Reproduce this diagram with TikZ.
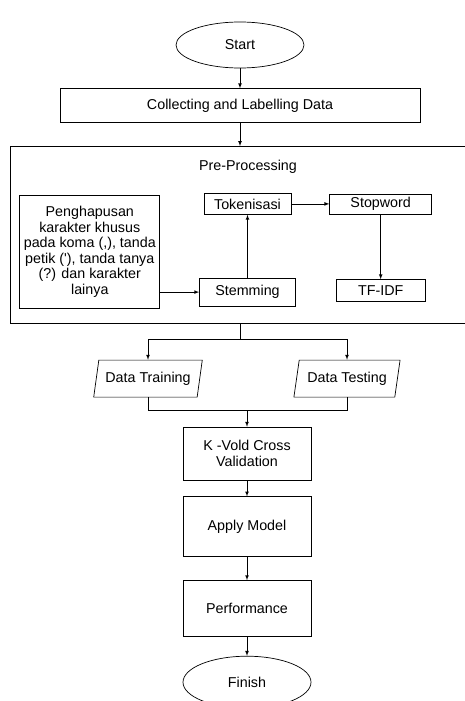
\documentclass[tikz,border=0pt]{standalone}
\usepackage{fontspec}
\setmainfont{Liberation Sans}
\usetikzlibrary{positioning,arrows,shapes.geometric}

\begin{document}
\begin{tikzpicture}[x=1pt, y=1pt, >=latex, line width=.7pt,
  font=\fontsize{14.3pt}{15.5pt}\selectfont,
  box/.style={draw, rectangle, inner sep=2pt, align=center},
  term/.style={draw, ellipse, minimum width=128pt, minimum height=46pt},
  io/.style={draw, trapezium, trapezium left angle=75, trapezium right angle=105,
    trapezium stretches=true, minimum height=37pt, inner sep=2pt}]
\useasboundingbox (0,0) rectangle (465,-701);
\node[term] (start) at (240,-45) {Start};
\node[box, below=20pt of start, minimum width=360pt, minimum height=34pt] (collect) {Collecting and Labelling Data};
\node[box, below=23pt of collect, minimum width=460pt, minimum height=177pt] (frame) {};
\node (pretitle) at ([xshift=8pt, yshift=-21pt]frame.north) {Pre-Processing};
\node[box, below=47pt of frame.north, xshift=7.5pt, minimum width=87pt, minimum height=21pt] (token) {Tokenisasi};
\node[box, right=38pt of token, minimum width=102pt, minimum height=20pt] (stopword) {Stopword};
\node[box, below=63pt of token, minimum width=96pt, minimum height=28pt] (stem) {Stemming};
\node[box, below=65pt of stopword, minimum width=89pt, minimum height=22pt] (tfidf) {TF-IDF};
\node[box, left=39pt of stem.south west, anchor=south east, yshift=-2pt, minimum width=140pt, minimum height=113pt] (clean)
  {Penghapusan\\karakter khusus\\pada koma (,), tanda\\petik (\textquotesingle), tanda tanya\\(?) dan karakter\\lainya};
\coordinate[below=16pt of frame.south] (split);
\node[io, below=20pt of split, xshift=-92pt, minimum width=109pt] (train) {Data Training};
\node[io, below=20pt of split, xshift=107pt, minimum width=107pt] (test) {Data Testing};
\node[box, below=103pt of frame.south, xshift=7pt, minimum width=128pt, minimum height=53pt] (kfold) {K -Vold Cross\\Validation};
\coordinate[above=16pt of kfold.north] (join);
\node[box, below=16pt of kfold, minimum width=128pt, minimum height=60pt] (apply) {Apply Model};
\node[box, below=23pt of apply, minimum width=128pt, minimum height=56pt] (perf) {Performance};
\node[term, below=19pt of perf, minimum height=52pt] (finish) {Finish};
\draw[->] (start) -- (collect);
\draw[->] (collect) -- (frame);
\draw[->] (clean.east |- stem) -- (stem);
\draw[->] (stem) -- (token);
\draw[->] (token) -- (stopword);
\draw[->] (stopword) -- (tfidf);
\draw (frame) -- (split);
\draw[->] (split) -| (train);
\draw[->] (split) -| (test);
\draw (train) |- (join);
\draw (test) |- (join);
\draw[->] (join) -- (kfold);
\draw[->] (kfold) -- (apply);
\draw[->] (apply) -- (perf);
\draw[->] (perf) -- (finish);
\end{tikzpicture}
\end{document}
